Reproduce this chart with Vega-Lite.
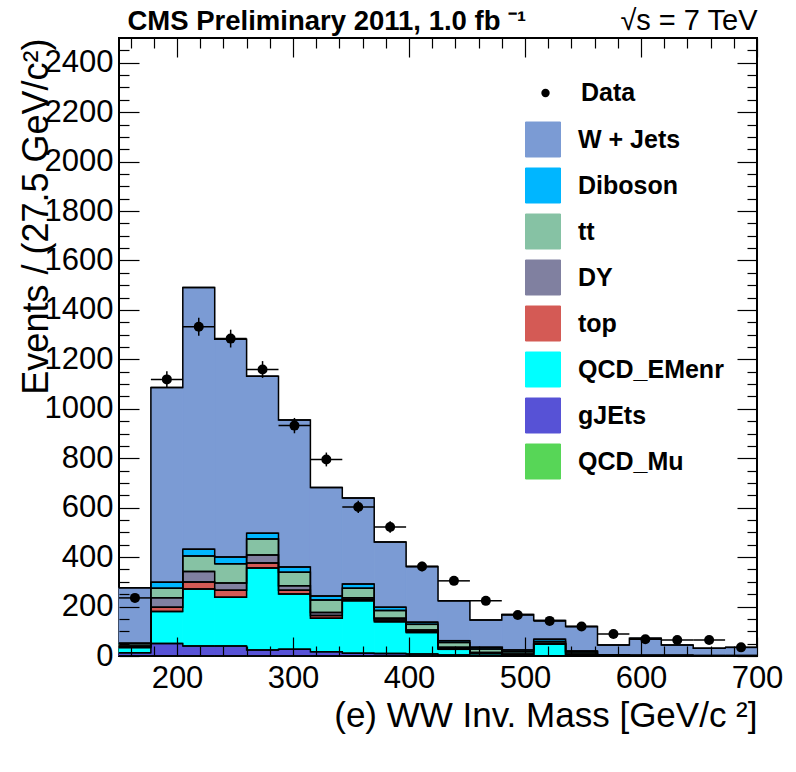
{
  "$schema": "https://vega.github.io/schema/vega-lite/v6.json",
  "width": 638,
  "height": 618,
  "autosize": {"type": "none"},
  "padding": {"left": 119, "top": 38, "right": 39, "bottom": 116},
  "background": "white",
  "config": {"view": {"stroke": "black", "strokeWidth": 2}, "font": "Liberation Sans"},
  "datasets": {
    "mc": [
      {"lo": 150, "hi": 177.5, "QCD_Mu": 0, "gJEts": 13, "QCD_EMenr": 21, "top": 4, "DY": 2, "tt": 10, "Diboson": 2, "W + Jets": 224},
      {"lo": 177.5, "hi": 205, "QCD_Mu": 0, "gJEts": 51, "QCD_EMenr": 129, "top": 17, "DY": 39, "tt": 38, "Diboson": 24, "W + Jets": 788},
      {"lo": 205, "hi": 232.5, "QCD_Mu": 0, "gJEts": 40, "QCD_EMenr": 231, "top": 28, "DY": 43, "tt": 63, "Diboson": 27, "W + Jets": 1059},
      {"lo": 232.5, "hi": 260, "QCD_Mu": 0, "gJEts": 40, "QCD_EMenr": 198, "top": 28, "DY": 29, "tt": 78, "Diboson": 27, "W + Jets": 881},
      {"lo": 260, "hi": 287.5, "QCD_Mu": 0, "gJEts": 24, "QCD_EMenr": 332, "top": 20, "DY": 33, "tt": 64, "Diboson": 24, "W + Jets": 635},
      {"lo": 287.5, "hi": 315, "QCD_Mu": 0, "gJEts": 27, "QCD_EMenr": 224, "top": 15, "DY": 18, "tt": 55, "Diboson": 21, "W + Jets": 595},
      {"lo": 315, "hi": 342.5, "QCD_Mu": 0, "gJEts": 17, "QCD_EMenr": 136, "top": 11, "DY": 12, "tt": 51, "Diboson": 16, "W + Jets": 439},
      {"lo": 342.5, "hi": 370, "QCD_Mu": 0, "gJEts": 11, "QCD_EMenr": 213, "top": 6, "DY": 6, "tt": 38, "Diboson": 17, "W + Jets": 348},
      {"lo": 370, "hi": 397.5, "QCD_Mu": 0, "gJEts": 10, "QCD_EMenr": 129, "top": 7, "DY": 7, "tt": 31, "Diboson": 13, "W + Jets": 264},
      {"lo": 397.5, "hi": 425, "QCD_Mu": 0, "gJEts": 8, "QCD_EMenr": 87, "top": 4, "DY": 6, "tt": 23, "Diboson": 9, "W + Jets": 225},
      {"lo": 425, "hi": 452.5, "QCD_Mu": 0, "gJEts": 4, "QCD_EMenr": 23, "top": 4, "DY": 4, "tt": 20, "Diboson": 7, "W + Jets": 161},
      {"lo": 452.5, "hi": 480, "QCD_Mu": 0, "gJEts": 2, "QCD_EMenr": 8, "top": 2, "DY": 2, "tt": 14, "Diboson": 7, "W + Jets": 111},
      {"lo": 480, "hi": 507.5, "QCD_Mu": 0, "gJEts": 1, "QCD_EMenr": 2, "top": 2, "DY": 3, "tt": 9, "Diboson": 7, "W + Jets": 144},
      {"lo": 507.5, "hi": 535, "QCD_Mu": 0, "gJEts": 1, "QCD_EMenr": 47, "top": 2, "DY": 2, "tt": 7, "Diboson": 9, "W + Jets": 76},
      {"lo": 535, "hi": 562.5, "QCD_Mu": 0, "gJEts": 0, "QCD_EMenr": 3, "top": 2, "DY": 3, "tt": 8, "Diboson": 4, "W + Jets": 99},
      {"lo": 562.5, "hi": 590, "QCD_Mu": 0, "gJEts": 0, "QCD_EMenr": 0, "top": 1, "DY": 1, "tt": 2, "Diboson": 1, "W + Jets": 40},
      {"lo": 590, "hi": 617.5, "QCD_Mu": 0, "gJEts": 0, "QCD_EMenr": 0, "top": 0, "DY": 1, "tt": 1, "Diboson": 1, "W + Jets": 69},
      {"lo": 617.5, "hi": 645, "QCD_Mu": 0, "gJEts": 0, "QCD_EMenr": 0, "top": 1, "DY": 0, "tt": 1, "Diboson": 1, "W + Jets": 42},
      {"lo": 645, "hi": 672.5, "QCD_Mu": 0, "gJEts": 0, "QCD_EMenr": 0, "top": 0, "DY": 0, "tt": 1, "Diboson": 1, "W + Jets": 29},
      {"lo": 672.5, "hi": 700, "QCD_Mu": 0, "gJEts": 0, "QCD_EMenr": 0, "top": 0, "DY": 1, "tt": 1, "Diboson": 0, "W + Jets": 33}
    ],
    "procs": [
      {"key": "QCD_Mu", "ord": 1},
      {"key": "gJEts", "ord": 2},
      {"key": "QCD_EMenr", "ord": 3},
      {"key": "top", "ord": 4},
      {"key": "DY", "ord": 5},
      {"key": "tt", "ord": 6},
      {"key": "Diboson", "ord": 7},
      {"key": "W + Jets", "ord": 8}
    ],
    "obs": [
      {"c": 163.75, "lo": 150, "hi": 177.5, "n": 235, "elo": 220, "ehi": 250},
      {"c": 191.25, "lo": 177.5, "hi": 205, "n": 1119, "elo": 1086, "ehi": 1152},
      {"c": 218.75, "lo": 205, "hi": 232.5, "n": 1332, "elo": 1296, "ehi": 1368},
      {"c": 246.25, "lo": 232.5, "hi": 260, "n": 1284, "elo": 1248, "ehi": 1320},
      {"c": 273.75, "lo": 260, "hi": 287.5, "n": 1159, "elo": 1125, "ehi": 1193},
      {"c": 301.25, "lo": 287.5, "hi": 315, "n": 932, "elo": 901, "ehi": 963},
      {"c": 328.75, "lo": 315, "hi": 342.5, "n": 795, "elo": 767, "ehi": 823},
      {"c": 356.25, "lo": 342.5, "hi": 370, "n": 603, "elo": 578, "ehi": 628},
      {"c": 383.75, "lo": 370, "hi": 397.5, "n": 522, "elo": 499, "ehi": 545},
      {"c": 411.25, "lo": 397.5, "hi": 425, "n": 362, "elo": 343, "ehi": 381},
      {"c": 438.75, "lo": 425, "hi": 452.5, "n": 304, "elo": 287, "ehi": 321},
      {"c": 466.25, "lo": 452.5, "hi": 480, "n": 223, "elo": 208, "ehi": 238},
      {"c": 493.75, "lo": 480, "hi": 507.5, "n": 166, "elo": 153, "ehi": 179},
      {"c": 521.25, "lo": 507.5, "hi": 535, "n": 142, "elo": 130, "ehi": 154},
      {"c": 548.75, "lo": 535, "hi": 562.5, "n": 119, "elo": 108, "ehi": 130},
      {"c": 576.25, "lo": 562.5, "hi": 590, "n": 89, "elo": 80, "ehi": 98},
      {"c": 603.75, "lo": 590, "hi": 617.5, "n": 68, "elo": 60, "ehi": 76},
      {"c": 631.25, "lo": 617.5, "hi": 645, "n": 65, "elo": 57, "ehi": 73},
      {"c": 658.75, "lo": 645, "hi": 672.5, "n": 65, "elo": 57, "ehi": 73},
      {"c": 686.25, "lo": 672.5, "hi": 700, "n": 35, "elo": 29, "ehi": 41}
    ]
  },
  "resolve": {"axis": {"x": "independent", "y": "independent"}},
  "layer": [
    {
      "data": {"name": "mc"},
      "transform": [
        {"fold": ["QCD_Mu", "gJEts", "QCD_EMenr", "top", "DY", "tt", "Diboson", "W + Jets"], "as": ["key", "v"]},
        {"lookup": "key", "from": {"data": {"name": "procs"}, "key": "key", "fields": ["ord"]}},
        {"stack": "v", "groupby": ["lo"], "sort": [{"field": "ord", "order": "ascending"}], "as": ["c0", "c1"]}
      ],
      "mark": {"type": "rect", "strokeWidth": 1},
      "encoding": {
        "x": {"field": "lo", "type": "quantitative", "scale": {"domain": [150, 700], "nice": false, "zero": false},
          "axis": {"orient": "bottom", "zindex": 1, "values": [160,180,200,220,240,260,280,300,320,340,360,380,400,420,440,460,480,500,520,540,560,580,600,620,640,660,680,700],
            "format": "d", "tickSize": {"condition": {"test": "datum.value % 100 === 0", "value": -19}, "value": -10},
            "labelExpr": "datum.value % 100 === 0 ? datum.label : ''", "labelFontSize": 31, "labelColor": "black", "labelPadding": 26, "labelBaseline": "top",
            "labelFlush": false, "labelOverlap": false, "domain": false, "grid": false, "tickColor": "black", "tickWidth": 1.2,
            "title": "(e) WW Inv. Mass [GeV/c ²]", "titleFontSize": 35, "titleFontWeight": "normal", "titleColor": "black",
            "titleAlign": "right", "titleAnchor": "end", "titleX": 638, "titleY": 70, "titleBaseline": "alphabetic"}},
        "x2": {"field": "hi"},
        "y": {"field": "c1", "type": "quantitative", "scale": {"domain": [0, 2500], "nice": false, "zero": true},
          "axis": {"orient": "left", "zindex": 1, "values": [0,50,100,150,200,250,300,350,400,450,500,550,600,650,700,750,800,850,900,950,1000,1050,1100,1150,1200,1250,1300,1350,1400,1450,1500,1550,1600,1650,1700,1750,1800,1850,1900,1950,2000,2050,2100,2150,2200,2250,2300,2350,2400,2450],
            "format": "d", "tickSize": {"condition": {"test": "datum.value % 200 === 0", "value": -20}, "value": -10},
            "labelExpr": "datum.value % 200 === 0 ? datum.label : ''", "labelFontSize": 31, "labelColor": "black", "labelPadding": 26, "labelBaseline": "middle",
            "labelFlush": false, "labelOverlap": false, "domain": false, "grid": false, "tickColor": "black", "tickWidth": 1.2,
            "title": "Events / (27.5 GeV/c²)", "titleFontSize": 36, "titleFontWeight": "normal", "titleColor": "black",
            "titleAngle": 270, "titleAlign": "right", "titleX": -72, "titleY": 0, "titleBaseline": "alphabetic"}},
        "y2": {"field": "c0"},
        "fill": {"field": "key", "type": "nominal",
          "scale": {"domain": ["W + Jets", "Diboson", "tt", "DY", "top", "QCD_EMenr", "gJEts", "QCD_Mu"],
                    "range": ["#7b9bd4", "#00b6ff", "#86c2a4", "#8080a0", "#d45a55", "#00ffff", "#5752d6", "#57d657"]},
          "legend": {"orient": "none", "legendX": 406, "legendY": 83.5, "title": null, "symbolType": "square", "symbolSize": 1225,
            "symbolStrokeColor": "black", "symbolStrokeWidth": 1, "symbolOpacity": 1, "labelFontSize": 25, "labelFontWeight": "bold",
            "labelColor": "black", "labelOffset": 17, "rowPadding": 6, "padding": 0}},
        "stroke": {"field": "key", "type": "nominal",
          "scale": {"domain": ["W + Jets", "Diboson", "tt", "DY", "top", "QCD_EMenr", "gJEts", "QCD_Mu"],
                    "range": ["#7b9bd4", "#00b6ff", "#86c2a4", "#8080a0", "#d45a55", "#00ffff", "#5752d6", "#57d657"]},
          "legend": null}
      }
    },
    {
      "data": {"name": "mc"},
      "transform": [
        {"fold": ["QCD_Mu", "gJEts", "QCD_EMenr", "top", "DY", "tt", "Diboson", "W + Jets"], "as": ["key", "v"]},
        {"lookup": "key", "from": {"data": {"name": "procs"}, "key": "key", "fields": ["ord"]}},
        {"stack": "v", "groupby": ["lo"], "sort": [{"field": "ord", "order": "ascending"}], "as": ["c0", "c1"]}
      ],
      "mark": {"type": "line", "interpolate": "step-after", "color": "black", "strokeWidth": 1.5},
      "encoding": {
        "x": {"field": "lo", "type": "quantitative",
          "axis": {"orient": "top", "ticks": false, "labels": false, "domain": false, "grid": false,
            "title": "CMS Preliminary 2011, 1.0 fb ⁻¹", "titleFontSize": 27.5, "titleFontWeight": "bold", "titleColor": "black",
            "titleAngle": 0, "titleAlign": "left", "titleX": 8, "titleY": -9, "titleBaseline": "alphabetic"}},
        "y": {"field": "c1", "type": "quantitative", "axis": null},
        "detail": {"field": "key"}
      }
    },
    {
      "data": {"name": "mc"},
      "transform": [
        {"fold": ["QCD_Mu", "gJEts", "QCD_EMenr", "top", "DY", "tt", "Diboson", "W + Jets"], "as": ["key", "v"]},
        {"lookup": "key", "from": {"data": {"name": "procs"}, "key": "key", "fields": ["ord"]}},
        {"stack": "v", "groupby": ["lo"], "sort": [{"field": "ord", "order": "ascending"}], "as": ["c0", "c1"]}
      ],
      "mark": {"type": "rule", "color": "black", "strokeWidth": 1.5},
      "encoding": {
        "x": {"field": "lo", "type": "quantitative", "axis": null},
        "x2": {"field": "hi"},
        "y": {"field": "c1", "type": "quantitative", "axis": null}
      }
    },
    {
      "data": {"name": "obs"},
      "mark": {"type": "rule", "color": "black", "strokeWidth": 1.5},
      "encoding": {
        "x": {"field": "c", "type": "quantitative", "axis": null},
        "y": {"field": "elo", "type": "quantitative", "axis": null},
        "y2": {"field": "ehi"}
      }
    },
    {
      "data": {"name": "obs"},
      "mark": {"type": "rule", "color": "black", "strokeWidth": 1.5},
      "encoding": {
        "x": {"field": "lo", "type": "quantitative", "axis": null},
        "x2": {"field": "hi"},
        "y": {"field": "n", "type": "quantitative", "axis": null}
      }
    },
    {
      "data": {"name": "obs"},
      "mark": {"type": "point", "filled": true, "color": "black", "opacity": 1, "size": 100},
      "encoding": {
        "x": {"field": "c", "type": "quantitative",
          "axis": {"orient": "top", "zindex": 1, "values": [160,180,200,220,240,260,280,300,320,340,360,380,400,420,440,460,480,500,520,540,560,580,600,620,640,660,680,700],
            "tickSize": {"condition": {"test": "datum.value % 100 === 0", "value": -19}, "value": -10},
            "labels": false, "domain": false, "grid": false, "tickColor": "black", "tickWidth": 1.2,
            "title": "√s = 7 TeV", "titleFontSize": 29, "titleFontWeight": "normal", "titleColor": "black",
            "titleAngle": 0, "titleAlign": "right", "titleX": 638, "titleY": -9, "titleBaseline": "alphabetic"}},
        "y": {"field": "n", "type": "quantitative",
          "axis": {"orient": "right", "zindex": 1, "values": [0,50,100,150,200,250,300,350,400,450,500,550,600,650,700,750,800,850,900,950,1000,1050,1100,1150,1200,1250,1300,1350,1400,1450,1500,1550,1600,1650,1700,1750,1800,1850,1900,1950,2000,2050,2100,2150,2200,2250,2300,2350,2400,2450],
            "tickSize": {"condition": {"test": "datum.value % 200 === 0", "value": -20}, "value": -10},
            "labels": false, "domain": false, "grid": false, "tickColor": "black", "tickWidth": 1.2, "title": null}},
        "shape": {"datum": "Data", "scale": {"range": ["circle"]},
          "legend": {"orient": "none", "legendX": 414, "legendY": 42.5, "title": null, "symbolSize": 70, "symbolFillColor": "black",
            "symbolStrokeColor": "black", "symbolStrokeWidth": 0, "labelFontSize": 25, "labelFontWeight": "bold", "labelColor": "black",
            "labelOffset": 23, "padding": 0}}
      }
    }
  ]
}
